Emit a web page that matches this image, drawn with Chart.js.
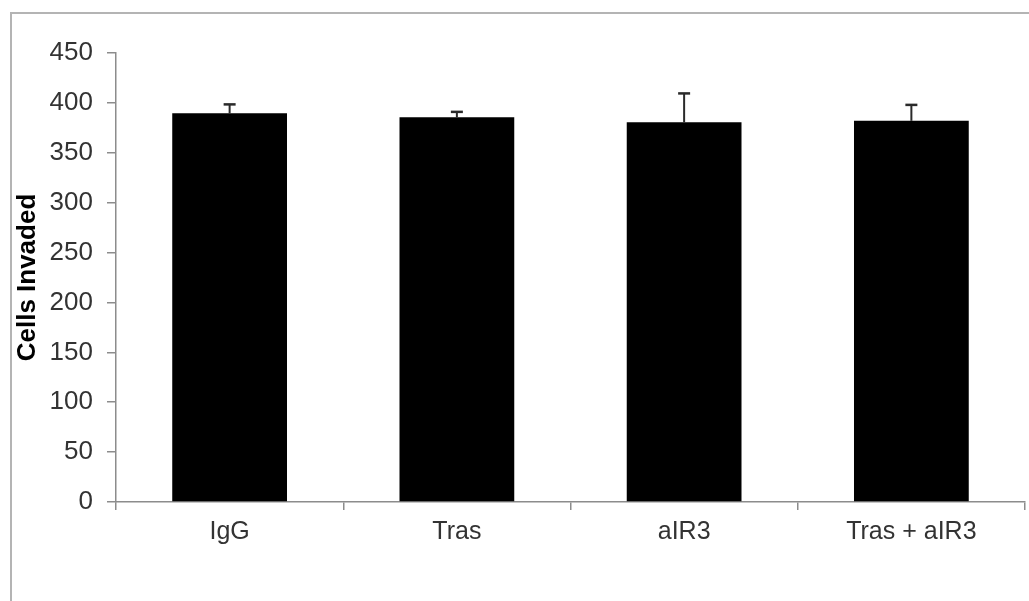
<!DOCTYPE html>
<html>
<head>
<meta charset="utf-8">
<script src="https://cdn.jsdelivr.net/npm/chart.js@4.4.1/dist/chart.umd.min.js"></script>
<style>
  html, body { margin: 0; padding: 0; background: #fff; }
  #wrap { position: relative; width: 1029px; height: 601px; overflow: hidden; }
  #frame { position: absolute; left: 10px; top: 12px; width: 1100px; height: 700px;
           border-left: 2px solid #b4b4b4; border-top: 2px solid #b4b4b4; box-sizing: border-box; }
  canvas { position: absolute; left: 0; top: 0; }
</style>
</head>
<body>
<div id="wrap">
  <div id="frame"></div>
  <canvas id="c" width="1029" height="601"></canvas>
</div>
<script>
const categories = ["IgG", "Tras", "aIR3", "Tras + aIR3"];
const cellsInvaded = [389.5, 385.5, 380.5, 382];
const errorUpper = [9, 5.5, 29, 16];
const yTicks = [0, 50, 100, 150, 200, 250, 300, 350, 400, 450];

const errorBarPlugin = {
  id: 'errorBars',
  afterDatasetsDraw(chart) {
    const ctx = chart.ctx;
    const meta = chart.getDatasetMeta(0);
    const y = chart.scales.y;
    ctx.save();
    ctx.strokeStyle = '#2a2a2a';
    meta.data.forEach((bar, i) => {
      const top = y.getPixelForValue(cellsInvaded[i] + errorUpper[i]);
      const base = y.getPixelForValue(cellsInvaded[i]);
      ctx.lineWidth = 2;
      ctx.beginPath();
      ctx.moveTo(bar.x, base);
      ctx.lineTo(bar.x, top);
      ctx.stroke();
      ctx.lineWidth = 2.5;
      ctx.beginPath();
      ctx.moveTo(bar.x - 6, top);
      ctx.lineTo(bar.x + 6, top);
      ctx.stroke();
    });
    ctx.restore();
  }
};

new Chart(document.getElementById('c'), {
  type: 'bar',
  data: {
    labels: categories,
    datasets: [{
      data: cellsInvaded,
      backgroundColor: '#000000',
      borderColor: '#000000',
      borderWidth: 0,
      barPercentage: 0.505,
      categoryPercentage: 1.0
    }]
  },
  options: {
    responsive: false,
    animation: false,
    devicePixelRatio: 1,
    layout: { padding: { top: 53, right: 4, left: 0, bottom: 0 } },
    plugins: { legend: { display: false }, tooltip: { enabled: false } },
    scales: {
      x: {
        grid: { display: true, drawOnChartArea: false, drawTicks: true, tickLength: 8, color: '#8c8c8c', lineWidth: 1.5, offset: true },
        border: { display: true, color: '#8c8c8c', width: 1.5 },
        ticks: { color: '#333', font: { family: 'Liberation Sans, Arial', size: 25 }, padding: 7, maxRotation: 0 },
        afterFit(scale) { scale.height = 99; }
      },
      y: {
        min: 0, max: 450,
        afterBuildTicks(scale) { scale.ticks = yTicks.map(v => ({ value: v })); },
        grid: { display: true, drawOnChartArea: false, drawTicks: true, tickLength: 9, color: '#8c8c8c', lineWidth: 1.5 },
        border: { display: true, color: '#8c8c8c', width: 1.5 },
        ticks: { color: '#333', font: { family: 'Liberation Sans, Arial', size: 26 }, padding: 14 },
        title: { display: true, text: 'Cells Invaded', color: '#000', font: { family: 'Liberation Sans, Arial', size: 26, weight: 'bold' }, padding: { top: 12, bottom: 0 } },
        afterFit(scale) { scale.width = 116; }
      }
    }
  },
  plugins: [errorBarPlugin]
});
</script>
</body>
</html>
